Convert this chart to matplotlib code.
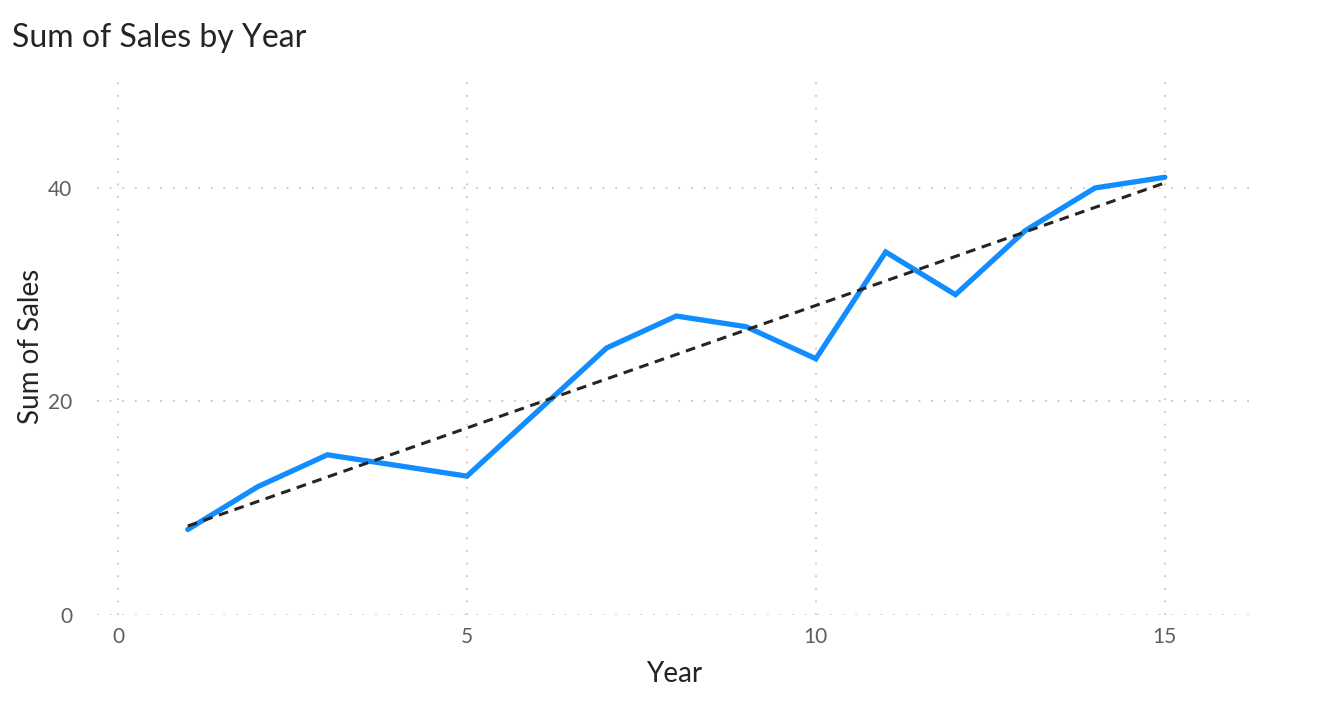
import matplotlib.pyplot as plt
import numpy as np

# data
years = [1, 2, 3, 4, 5, 6, 7, 8, 9, 10, 11, 12, 13, 14, 15]
sales = [8, 12, 15, 14, 13, 19, 25, 28, 27, 24, 34, 30, 36, 40, 41]
x_ticks = [0, 5, 10, 15]
y_ticks = [0, 20, 40]

plt.rcParams['font.family'] = ['Lato', 'DejaVu Sans']

fig = plt.figure(figsize=(13.18, 7.26), dpi=100)
ax = fig.add_axes([0.0736, 0.153, 0.8764, 0.7396])

# sales line
ax.plot(years, sales, color='#118DFF', lw=3.8, solid_capstyle='round',
        solid_joinstyle='miter', zorder=3)

# linear trend line
slope, icpt = np.polyfit(years, sales, 1)
xt = np.array([years[0], years[-1]])
ax.plot(xt, slope * xt + icpt, color='#252423', lw=2.2, ls=(0, (3.2, 2.2)), zorder=4)

ax.set_xlim(-0.3, 16.25)
ax.set_ylim(0, 50.3)
ax.set_xticks(x_ticks)
ax.set_yticks(y_ticks)

for s in ax.spines.values():
    s.set_visible(False)
ax.tick_params(length=0, labelsize=15, labelcolor='#605E5C')
ax.tick_params(axis='x', pad=9)
ax.tick_params(axis='y', pad=18)
ax.grid(True, color='#C8C6C4', ls=(0, (1, 6)), lw=1.3)
ax.set_axisbelow(True)

ax.set_xlabel('Year', fontsize=20, color='#252423', labelpad=10)
ax.set_ylabel('Sum of Sales', fontsize=20, color='#252423', labelpad=3)

fig.text(0.009, 0.948, 'Sum of Sales by Year', fontsize=23, color='#252423',
         va='center', ha='left')

fig.savefig('out.png', dpi=100, facecolor='white')
